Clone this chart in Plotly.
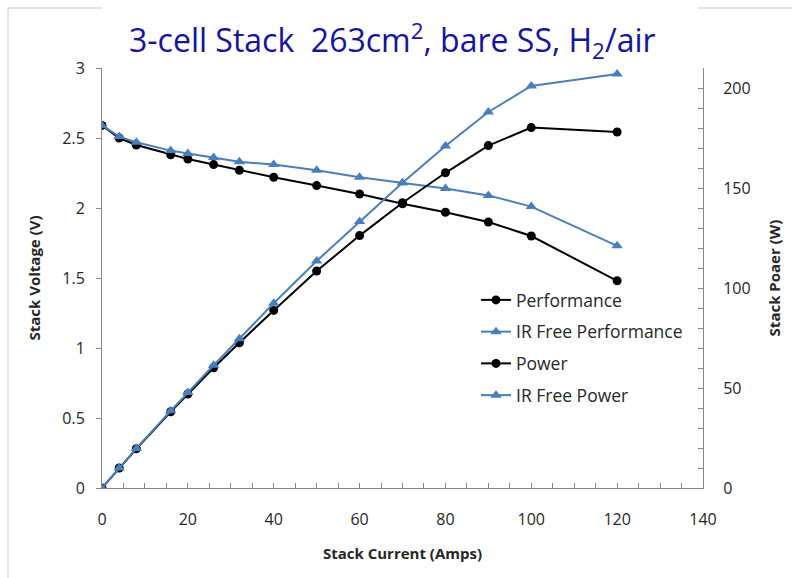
import plotly.graph_objects as go

# Stack current (A)
current = [0, 4, 8, 16, 20, 26, 32, 40, 50, 60, 70, 80, 90, 100, 120]

# Stack voltage (V)
perf_voltage = [2.59, 2.50, 2.45, 2.38, 2.35, 2.31, 2.27, 2.22, 2.16, 2.10, 2.03, 1.97, 1.90, 1.80, 1.48]
irfree_voltage = [2.59, 2.51, 2.47, 2.41, 2.39, 2.36, 2.33, 2.31, 2.27, 2.22, 2.18, 2.14, 2.09, 2.01, 1.73]

# Stack power (W)
perf_power = [0, 10.0, 19.6, 38.1, 47.0, 60.1, 72.6, 88.8, 108.5, 126.2, 142.6, 157.6, 171.2, 180.2, 178.0]
irfree_power = [0, 10.0, 19.8, 38.6, 47.8, 61.4, 74.6, 92.4, 113.5, 133.2, 152.6, 171.0, 188.0, 201.0, 207.0]

BLACK = "#000000"
BLUE = "#4a7ebb"
AXIS = "#868686"
TEXT = "#262626"
FONT = "Open Sans"

fig = go.Figure()

fig.add_trace(go.Scatter(
    x=current, y=perf_voltage, name="Performance", mode="lines+markers",
    line=dict(color=BLACK, width=2), marker=dict(symbol="circle", size=9, color=BLACK),
    legendgroup="a", yaxis="y"))
fig.add_trace(go.Scatter(
    x=current, y=irfree_voltage, name="IR Free Performance", mode="lines+markers",
    line=dict(color=BLUE, width=2), marker=dict(symbol="triangle-up", size=10, color=BLUE),
    legendgroup="b", yaxis="y"))
fig.add_trace(go.Scatter(
    x=current, y=perf_power, name="Power", mode="lines+markers",
    line=dict(color=BLACK, width=2), marker=dict(symbol="circle", size=9, color=BLACK),
    legendgroup="c", yaxis="y2"))
fig.add_trace(go.Scatter(
    x=current, y=irfree_power, name="IR Free Power", mode="lines+markers",
    line=dict(color=BLUE, width=2), marker=dict(symbol="triangle-up", size=10, color=BLUE),
    legendgroup="d", yaxis="y2"))

L, R, T, B = 102, 703, 68, 488
W, H = 792, 578


def px(xp):
    return (xp - L) / (R - L)


def py(yp):
    return (B - yp) / (B - T)


fig.update_layout(
    width=W, height=H,
    margin=dict(l=L, r=W - R, t=T, b=H - B),
    paper_bgcolor="white", plot_bgcolor="white",
    font=dict(family=FONT, size=16, color=TEXT),
    showlegend=True,
    legend=dict(
        x=px(476), y=py(282), xanchor="left", yanchor="top",
        bgcolor="rgba(0,0,0,0)", font=dict(size=17.5, color=TEXT),
        tracegroupgap=6, itemwidth=30,
    ),
    xaxis=dict(
        range=[0, 140], dtick=20, tick0=0,
        showgrid=False, zeroline=False,
        showline=True, linecolor=AXIS, linewidth=1,
        ticks="inside", ticklen=5, tickcolor=AXIS,
        minor=dict(dtick=5, ticks="inside", ticklen=5, tickcolor=AXIS, showgrid=False),
        tickfont=dict(size=16, color=TEXT), ticklabelstandoff=17,
        title=dict(text="<b>Stack Current (Amps)</b>", font=dict(size=15, color=TEXT), standoff=19),
    ),
    yaxis=dict(
        range=[0, 3], dtick=0.5, tick0=0,
        showgrid=False, zeroline=False,
        showline=True, linecolor=AXIS, linewidth=1,
        ticks="outside", ticklen=5, tickcolor=AXIS,
        tickfont=dict(size=16, color=TEXT), ticklabelstandoff=8,
        title=dict(text="<b>Stack Voltage (V)</b>", font=dict(size=15, color=TEXT), standoff=18),
    ),
    yaxis2=dict(
        overlaying="y", side="right",
        range=[0, 210], dtick=50, tick0=0,
        showgrid=False, zeroline=False,
        showline=True, linecolor=AXIS, linewidth=1,
        ticks="inside", ticklen=5, tickcolor=AXIS,
        minor=dict(dtick=10, ticks="inside", ticklen=5, tickcolor=AXIS, showgrid=False),
        tickfont=dict(size=16, color=TEXT), ticklabelstandoff=16,
        title=dict(text="<b>Stack Poaer (W)</b>", font=dict(size=15, color=TEXT), standoff=19),
    ),
)

# Chart title
fig.add_annotation(
    text="3-cell Stack&nbsp;&nbsp;263cm<sup>2</sup>, bare SS, H<sub>2</sub>/air",
    xref="paper", yref="paper", x=px(392), y=py(40),
    xanchor="center", yanchor="middle", showarrow=False,
    font=dict(family=FONT, size=32, color="#1414a0"),
)

# Faint frame lines along the top-left edges
frame = dict(color="#d9d9d9", width=1.5)
fig.add_shape(type="line", xref="paper", yref="paper",
              x0=px(8), x1=px(8), y0=py(8), y1=py(578), line=frame)
fig.add_shape(type="line", xref="paper", yref="paper",
              x0=px(8), x1=px(102), y0=py(8), y1=py(8), line=frame)
fig.add_shape(type="line", xref="paper", yref="paper",
              x0=px(698), x1=px(792), y0=py(8), y1=py(8), line=frame)

fig.write_html("out.html")
